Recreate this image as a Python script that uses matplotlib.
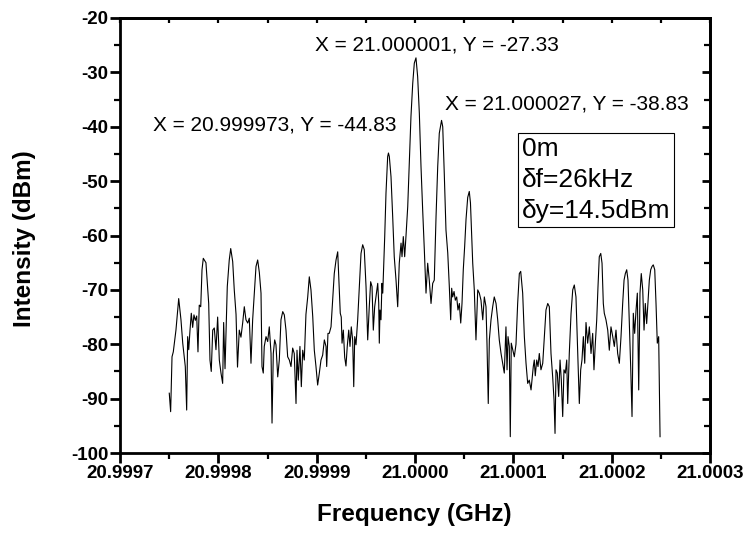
import matplotlib
matplotlib.use('Agg')
import matplotlib.pyplot as plt
import numpy as np

# ---- data (offset from 21 GHz in kHz, intensity in dBm) ----
offset_khz = [
    -249.9, -248.5, -247.1, -245.8, -243.1, -240.3, -238.0, -236.2, -233.6, -232.2,
    -231.2, -230.1, -228.8, -227.5, -226.1, -224.8, -223.4, -222.0, -220.7, -219.4,
    -217.9, -216.6, -215.3, -212.6, -211.2, -209.8, -208.5, -207.2, -205.7, -204.1,
    -202.4, -200.7, -199.0, -197.3, -195.6, -194.6, -193.2, -192.2, -190.9, -188.9,
    -187.4, -185.4, -183.8, -182.0, -180.5,
    -178.7, -177.0, -175.2, -173.6, -171.9, -170.1, -168.5, -166.8, -165.1, -163.4,
    -161.7, -160.0, -158.3, -156.6, -155.6, -154.3, -153.3, -151.5, -149.8, -148.2,
    -146.4, -145.4, -144.1, -142.7, -141.4, -139.6, -138.0, -136.3, -134.5, -132.9,
    -131.2, -129.5, -127.8, -126.1, -124.4, -122.8, -121.0, -120.0, -118.7, -117.0,
    -115.6, -114.2, -112.6, -110.9,
    -109.1, -107.5, -105.8, -104.0, -102.4, -100.7, -99.0, -97.3, -95.6, -93.9,
    -92.2, -90.5, -89.8, -88.5, -87.2, -85.4, -83.7, -82.1, -80.3, -78.6,
    -77.0, -76.0, -75.0, -74.2, -72.9, -71.5, -70.2, -68.9, -67.4, -66.1,
    -64.8, -63.4, -62.3, -61.3, -60.0, -58.3, -56.6, -54.9, -53.2, -51.6,
    -49.8, -48.1, -46.5, -45.1, -43.7, -42.4, -41.0, -39.7, -37.9, -36.9,
    -36.3, -35.6, -34.6, -33.6, -32.8, -32.2, -30.8, -29.5, -27.8, -27.0,
    -26.1, -24.4, -22.7, -21.1, -19.3, -17.6, -16.0, -14.2, -13.2, -11.9,
    -10.5, -9.2, -7.4, -5.8, -4.1, -2.3, -0.7, 1.0, 2.7, 4.4,
    6.1, 7.8, 9.5, 11.2, 12.9, 14.5, 16.3, 18.0, 19.6, 21.4,
    23.1, 24.7, 27.0, 28.2, 29.8, 31.5, 33.3, 34.9, 36.3, 37.3,
    38.3, 39.7, 41.0, 42.4, 43.7, 45.1, 46.5, 47.8, 49.1, 50.5,
    51.9, 53.6, 55.2, 56.4, 58.7, 60.3, 62.0, 63.8, 65.4, 67.1,
    68.9, 70.5, 72.2, 73.2, 74.5, 75.6, 77.3, 79.0, 80.6, 82.4,
    84.1, 85.7, 87.5, 89.2, 90.8, 92.5, 93.6, 94.6, 95.9, 96.9,
    97.9, 99.4, 101.0, 102.7, 104.4, 106.1, 107.5, 109.5, 111.2, 112.9,
    114.6, 116.2, 118.0, 119.0, 120.3, 121.3, 122.3, 123.8, 125.1, 126.4,
    128.1, 129.9, 131.5, 133.2, 135.0, 136.6, 138.3, 140.0, 141.4, 142.4,
    143.4, 144.7, 146.1, 147.5, 148.8, 150.2, 151.5, 152.9, 154.3, 155.3,
    156.9, 158.7, 160.4, 162.0, 163.7, 165.5, 167.1, 168.5, 169.8, 171.2,
    172.6, 173.9, 175.6, 177.3, 179.0, 180.7, 182.0, 183.4, 184.8, 186.1,
    187.4, 188.9, 190.2, 191.5, 192.5, 194.2, 196.0, 197.6, 199.3, 201.1,
    202.7, 204.4, 206.1, 207.8, 209.5, 211.2, 212.6, 213.9, 215.3, 216.6,
    217.9, 219.4, 220.7, 222.0, 223.4, 224.8, 226.1, 227.5, 228.8, 230.1,
    231.6, 232.9, 234.2, 235.6, 237.0, 238.3, 239.7, 241.0, 242.3, 243.8,
    245.1, 246.4, 247.8, 249.2,
]

intensity_dbm = [
    -89.0, -92.4, -82.3, -81.4, -77.4, -71.6, -75.5, -79.8, -84.1, -92.1,
    -78.6, -81.0, -77.4, -74.3, -76.9, -74.6, -75.6, -74.8, -81.4, -72.8,
    -73.1, -66.3, -64.2, -65.0, -68.8, -72.5, -82.9, -85.0, -77.4, -77.0,
    -81.0, -75.0, -82.9, -85.3, -87.2, -76.0, -84.5, -78.0, -69.4, -64.5,
    -62.4, -64.8, -70.0, -74.5, -84.2,
    -77.4, -78.7, -76.0, -73.1, -75.5, -76.1, -75.2, -83.5, -75.5, -70.6,
    -65.7, -64.5, -66.8, -70.6, -84.1, -85.3, -80.4, -78.6, -79.5, -76.8,
    -81.7, -94.5, -81.7, -79.2, -80.1, -86.0, -82.9, -75.5, -74.0, -74.6,
    -77.4, -82.3, -82.9, -84.1, -80.7, -81.7, -90.9, -81.1, -86.6, -80.4,
    -87.8, -81.1, -82.9, -74.5,
    -71.3, -67.6, -70.0, -74.9, -81.1, -84.1, -87.5, -85.3, -82.9, -82.0,
    -79.2, -80.4, -84.1, -78.0, -78.0, -76.8, -71.9, -67.0, -64.5, -63.0,
    -69.7, -74.3, -75.0, -79.8, -77.4, -82.4, -84.0, -80.4, -77.4, -80.4,
    -76.8, -79.2, -87.8, -78.6, -80.1, -75.5, -69.4, -63.3, -61.7, -62.6,
    -69.4, -79.2, -73.1, -68.5, -69.4, -77.4, -73.1, -71.3, -68.8, -72.4,
    -79.8, -73.7, -75.5, -68.8, -70.6, -67.6, -60.2, -52.2, -45.5, -44.83,
    -45.5, -49.2, -56.5, -63.9, -68.2, -73.1, -65.1, -61.4, -63.9, -60.2,
    -63.9, -60.2, -54.7, -46.7, -38.1, -32.0, -28.3, -27.33, -30.8, -37.5,
    -47.3, -55.3, -62.7, -70.6, -65.1, -68.2, -72.5, -68.8, -68.2, -56.5,
    -47.3, -41.2, -38.83, -40.0, -48.8, -59.0, -63.2, -69.4, -75.5, -69.7,
    -71.3, -70.3, -71.9, -71.3, -73.7, -72.5, -76.1, -72.5, -66.3, -62.0,
    -57.0, -53.0, -51.9, -54.0, -65.1, -70.0, -79.2, -70.0, -70.6, -71.9,
    -75.5, -71.3, -73.1, -79.8, -90.9, -79.2, -75.5, -73.1, -71.3, -72.5,
    -75.5, -79.2, -81.7, -83.5, -85.3, -76.8, -84.7, -78.6, -80.4, -97.0,
    -79.8, -81.0, -82.3, -80.0, -72.5, -67.0, -66.6, -70.6, -78.6, -83.5,
    -87.2, -86.6, -88.4, -86.6, -84.1, -82.9, -85.8, -82.9, -84.1, -81.7,
    -84.7, -83.5, -78.6, -73.7, -72.5, -73.1, -81.7, -86.0, -90.3, -96.4,
    -84.7, -85.3, -89.6, -82.9, -86.6, -93.3, -84.7, -85.3, -82.9, -90.9,
    -81.7, -74.3, -70.0, -69.1, -71.3, -81.7, -90.9, -84.7, -82.9, -78.6,
    -83.5, -76.0, -79.8, -76.8, -81.7, -78.0, -84.7, -79.8, -75.5, -69.4,
    -63.9, -63.3, -65.1, -72.5, -74.3, -75.5, -77.4, -81.1, -76.8, -78.6,
    -80.4, -77.4, -81.7, -83.5, -78.6, -72.5, -68.2, -67.0, -66.3, -68.2,
    -75.5, -84.5, -93.3, -74.3, -78.0, -73.7, -70.6, -88.4, -70.6, -67.0,
    -70.0, -77.4, -72.5, -76.2, -71.9, -68.2, -66.3, -65.7, -65.4, -66.3,
    -72.5, -79.8, -78.6, -97.0,
]

center_ghz = 21.0
x_ticks = [20.9997, 20.9998, 20.9999, 21.0000, 21.0001, 21.0002, 21.0003]
x_tick_labels = ['20.9997', '20.9998', '20.9999', '21.0000', '21.0001', '21.0002', '21.0003']
x_minor = [20.99975, 20.99985, 20.99995, 21.00005, 21.00015, 21.00025]
y_ticks = [-100, -90, -80, -70, -60, -50, -40, -30, -20]
y_minor = [-95, -85, -75, -65, -55, -45, -35, -25]

peak_labels = [
    ('X = 21.000001, Y = -27.33', 22.4, -24.9),
    ('X = 20.999973, Y = -44.83', -142.9, -39.7),
    ('X = 21.000027, Y = -38.83', 154.6, -35.8),
]
info_text = '0m\nδf=26kHz\nδy=14.5dBm'

freq_ghz = center_ghz + np.array(offset_khz) * 1e-6

plt.rcParams['font.family'] = ['Liberation Sans', 'DejaVu Sans']

fig = plt.figure(figsize=(7.45, 5.34), dpi=100)
ax = fig.add_axes([120 / 745, 1 - 453 / 534, 590 / 745, 435 / 534])

ax.plot(freq_ghz, intensity_dbm, color='black', lw=0.8)

ax.set_xlim(x_ticks[0], x_ticks[-1])
ax.set_ylim(y_ticks[0], y_ticks[-1])
ax.set_xticks(x_ticks, labels=x_tick_labels)
ax.set_xticks(x_minor, minor=True)
ax.set_yticks(y_ticks, labels=[str(v) for v in y_ticks])
ax.set_yticks(y_minor, minor=True)

for s in ax.spines.values():
    s.set_linewidth(2.0)

ax.tick_params(axis='both', which='major', direction='out', length=7, width=2,
               labelsize=13.5, top=False, right=False, pad=1.5)
ax.tick_params(axis='both', which='minor', direction='out', length=4, width=1.6,
               top=False, right=False)
for lab in ax.get_xticklabels() + ax.get_yticklabels():
    lab.set_fontweight('bold')

# mirrored inward ticks on top and right
sx = ax.secondary_xaxis('top')
sx.set_xticks(x_ticks)
sx.set_xticks(x_minor, minor=True)
sx.tick_params(which='both', direction='in', length=3.5, width=1.6, labeltop=False)
sx.spines['top'].set_linewidth(2.0)
sy = ax.secondary_yaxis('right')
sy.set_yticks(y_ticks)
sy.set_yticks(y_minor, minor=True)
sy.tick_params(which='major', direction='in', length=5.5, width=2, labelright=False)
sy.tick_params(which='minor', direction='in', length=4, width=1.6, labelright=False)
sy.spines['right'].set_linewidth(2.0)

for txt, xo, yv in peak_labels:
    ax.text(center_ghz + xo * 1e-6, yv, txt, ha='center', va='center', fontsize=15)

ax.text(0.681, 0.727, info_text, transform=ax.transAxes, ha='left', va='top',
        fontsize=19, linespacing=1.38,
        bbox=dict(boxstyle='square,pad=0.15', facecolor='white', edgecolor='black', lw=0.8))

fig.text(414 / 745, 1 - 515 / 534, 'Frequency (GHz)', ha='center', va='center',
         fontsize=17.5, fontweight='bold')
fig.text(25 / 745, 1 - 239 / 534, 'Intensity (dBm)', ha='center', va='center',
         rotation=90, fontsize=17.5, fontweight='bold')

fig.savefig('out.png', dpi=100)
